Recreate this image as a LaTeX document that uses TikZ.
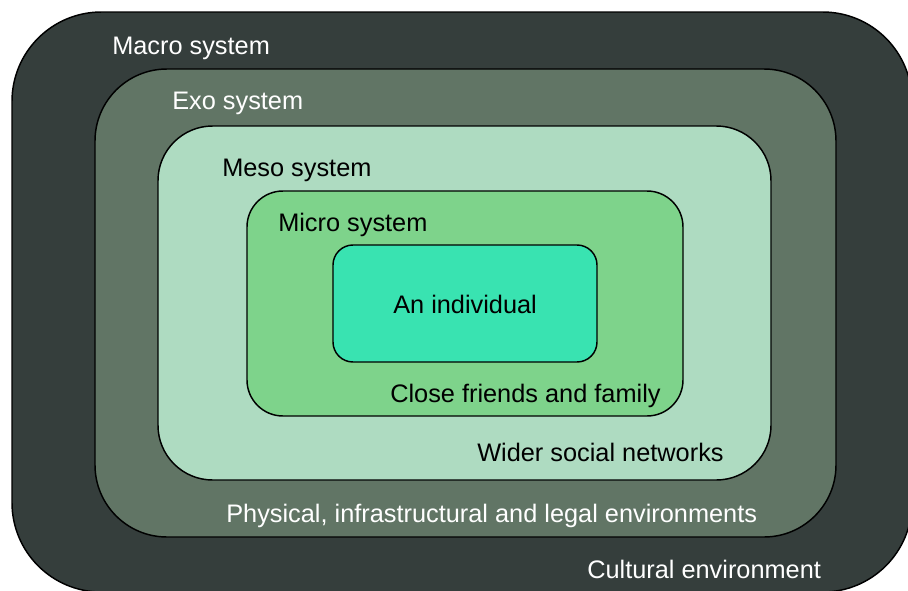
\documentclass[tikz,border=0pt]{standalone}
\usepackage{fontspec}
\setmainfont{Liberation Sans}
\definecolor{macrogray}{HTML}{353E3C}
\definecolor{exogreen}{HTML}{617565}
\definecolor{mesogreen}{HTML}{AEDBC1}
\definecolor{microgreen}{HTML}{7ED38B}
\definecolor{selfteal}{HTML}{39E3B1}

\begin{document}
\begin{tikzpicture}[
  x=0.75pt, y=-0.75pt,
  sysbox/.style={draw=black, line width=1.1pt},
  syslabel/.style={anchor=base west, inner sep=0pt, font=\fontsize{19}{22}\selectfont},
  darklabel/.style={syslabel, text=white},
  lightlabel/.style={syslabel, text=black}
]
  \useasboundingbox (0,0) rectangle (908,590);
  \clip (0,0) rectangle (908,590);

  % nested systems, outermost first
  \draw[sysbox, fill=macrogray, rounded corners=67pt] (12,12) rectangle (912,592);
  \draw[sysbox, fill=exogreen, rounded corners=54pt] (95,69) rectangle (836,537);
  \draw[sysbox, fill=mesogreen, rounded corners=41pt] (158,126) rectangle (771,480);
  \draw[sysbox, fill=microgreen, rounded corners=27pt] (247,191) rectangle (683,416);
  \draw[sysbox, fill=selfteal, rounded corners=15pt] (333,245) rectangle (597,362);

  % system names
  \node[darklabel] (macro) at (112,54) {Macro system};
  \node[darklabel] (exo) at (172,109) {Exo system};
  \node[lightlabel] (meso) at (222,176) {Meso system};
  \node[lightlabel] (micro) at (278,231) {Micro system};
  \node[lightlabel] (self) at (393,313) {An individual};

  % what each layer holds
  \node[lightlabel] (friends) at (390,402) {Close friends and family};
  \node[lightlabel] (networks) at (477,461) {Wider social networks};
  \node[darklabel] (physical) at (226,522) {Physical, infrastructural and legal environments};
  \node[darklabel] (cultural) at (587,578) {Cultural environment};
\end{tikzpicture}
\end{document}
